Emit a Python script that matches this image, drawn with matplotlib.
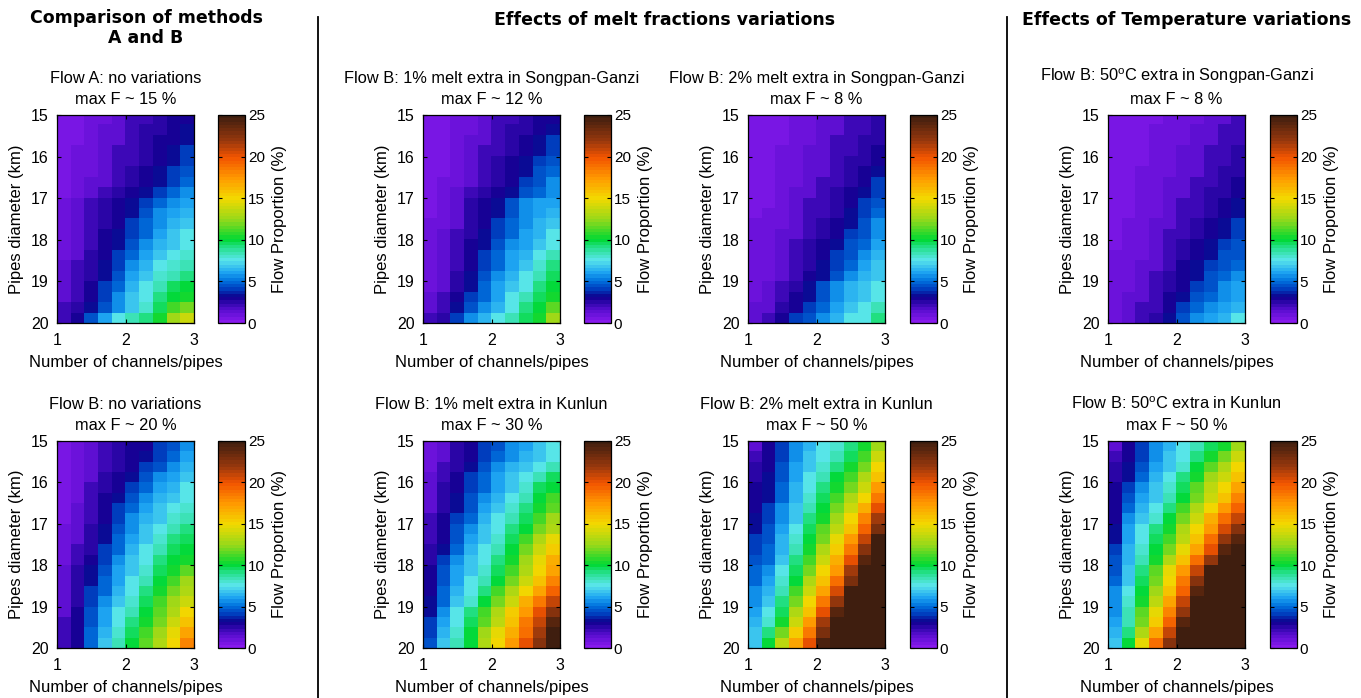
import numpy as np
import matplotlib
matplotlib.use("Agg")
import matplotlib.pyplot as plt
from matplotlib.colors import LinearSegmentedColormap
from matplotlib.lines import Line2D

plt.rcParams['font.family'] = ['Liberation Sans', 'DejaVu Sans']
plt.rcParams['mathtext.fontset'] = 'custom'
plt.rcParams['mathtext.rm'] = 'Liberation Sans'
plt.rcParams['mathtext.it'] = 'Liberation Sans:italic'

# ---------------------------------------------------------------- data
channel_range = (1, 3)          # number of channels/pipes
diameter_range = (15, 20)       # pipes diameter (km)
channel_ticks = [1, 2, 3]
diameter_ticks = [15, 16, 17, 18, 19, 20]
cbar_ticks = [0, 5, 10, 15, 20, 25]
cbar_limits = (0, 25)

# rows: diameter 15 -> 20 km, columns: 1 -> 3 channels ; flow proportion in %
flow_a_none = np.array([
    [0.5, 0.5, 1, 1, 1.5, 2, 2, 2.5, 3, 3],
    [0.5, 0.5, 1, 1.5, 1.5, 2, 2.5, 2.5, 3, 3.5],
    [0.5, 0.5, 1, 1.5, 1.5, 2, 2.5, 3, 3, 3.5],
    [0.5, 1, 1, 1.5, 2, 2, 2.5, 3, 3.5, 4],
    [0.5, 1, 1, 1.5, 2, 2, 2.5, 3, 3.5, 4],
    [0.5, 1, 1, 1.5, 2, 2.5, 3, 3.5, 4, 4.5],
    [0.5, 1, 1.5, 1.5, 2, 2.5, 3, 3.5, 4, 5],
    [0.5, 1, 1.5, 2, 2.5, 3, 3.5, 4, 5, 5.5],
    [1, 1.5, 2, 2.5, 3, 3.5, 4, 5, 5.5, 6],
    [1, 1.5, 2, 2.5, 3, 3.5, 4.5, 5.5, 6, 6.5],
    [1, 1.5, 2, 2.5, 3, 4, 5, 5.5, 6.5, 7],
    [1, 1.5, 2, 3, 3.5, 4, 5, 6, 7, 7.5],
    [1, 1.5, 2, 3, 3.5, 4.5, 5.5, 6.5, 7, 7.5],
    [1, 1.5, 2.5, 3, 4, 5, 6, 7, 7.5, 8],
    [1.5, 2, 2.5, 3.5, 4, 5.5, 6.5, 7.5, 8, 8.5],
    [1.5, 2, 2.5, 3.5, 4.5, 6, 7, 8, 8.5, 9],
    [1.5, 2, 3, 4, 5, 6.5, 7.5, 8.5, 9.5, 10],
    [1.5, 2, 3, 4, 5.5, 7, 7.5, 9, 10, 10.5],
    [2, 2.5, 3.5, 4.5, 5.5, 7, 8, 9.5, 11, 12],
    [2, 3, 4.5, 6, 7.5, 8.5, 9, 10.5, 12.5, 14],
])

flow_b_none = np.array([
    [0.5, 1, 1.5, 2, 2.5, 3, 3, 4, 4.5, 5.5],
    [0.5, 1, 1.5, 2, 2.5, 3, 3.5, 4, 5, 6],
    [0.5, 1, 1.5, 2, 2.5, 3, 4, 4.5, 5.5, 6.5],
    [0.5, 1, 1.5, 2.5, 3, 3.5, 4.5, 5.5, 6, 7],
    [0.5, 1, 2, 2.5, 3, 4, 5, 6, 6.5, 7.5],
    [0.5, 1, 2, 3, 3.5, 4.5, 5.5, 6.5, 7, 7.5],
    [0.5, 1.5, 2, 3, 4, 5, 6, 7, 7.5, 8],
    [0.5, 1.5, 2, 3, 4, 5.5, 6.5, 7, 8, 8.5],
    [1, 1.5, 2.5, 3.5, 4.5, 5.5, 7, 7.5, 8.5, 9],
    [1, 1.5, 2.5, 3.5, 5, 6, 7, 8, 9, 9.5],
    [1, 2, 2.5, 4, 5, 6.5, 7.5, 8.5, 9.5, 10],
    [1, 2, 3, 4, 5.5, 7, 7.5, 9, 10, 10.5],
    [1.5, 2.5, 3.5, 4.5, 6, 7, 8, 9.5, 10.5, 11.5],
    [1.5, 2.5, 3.5, 5, 6, 7.5, 8.5, 10, 11, 12.5],
    [1.5, 2.5, 4, 5, 6.5, 7.5, 9, 10.5, 12, 13],
    [1.5, 2.5, 4, 5.5, 7, 8, 9.5, 11, 12.5, 14],
    [1.5, 3, 4.5, 6, 7.5, 8.5, 10, 11.5, 13, 15],
    [2, 3, 4.5, 6, 7.5, 9, 10.5, 12, 14, 16],
    [2, 3, 5, 6.5, 8, 9.5, 11, 12.5, 14.5, 17],
    [2, 3, 5, 7, 8.5, 10, 11.5, 13, 15, 18],
])

flow_b_melt1_sg = np.array([
    [0.5, 0.5, 1, 1, 1.5, 2, 2, 2.5, 3, 3],
    [0.5, 0.5, 1, 1, 1.5, 2, 2.5, 2.5, 3, 3.5],
    [0.5, 0.5, 1, 1.5, 1.5, 2, 2.5, 3, 3.5, 4],
    [0.5, 0.5, 1, 1.5, 2, 2, 2.5, 3, 3.5, 4],
    [0.5, 0.5, 1, 1.5, 2, 2.5, 3, 3.5, 4, 4.5],
    [0.5, 0.5, 1, 1.5, 2, 2.5, 3, 3.5, 4.5, 5],
    [0.5, 1, 1, 1.5, 2, 2.5, 3, 4, 4.5, 5.5],
    [0.5, 1, 1.5, 2, 2.5, 3, 3.5, 4.5, 5, 5.5],
    [0.5, 1, 1.5, 2.5, 3, 3.5, 4.5, 5.5, 6, 6],
    [0.5, 1, 1.5, 2.5, 3, 3.5, 4.5, 5.5, 6, 6.5],
    [1, 1, 1.5, 2.5, 3, 4, 5, 5.5, 6.5, 7],
    [1, 1.5, 2, 2.5, 3.5, 4, 5, 6, 6.5, 7.5],
    [1, 1.5, 2, 3, 3.5, 4.5, 5.5, 6, 7, 7.5],
    [1, 1.5, 2, 3, 4, 5, 6, 6.5, 7.5, 8.5],
    [1, 1.5, 2, 3, 4, 5, 6, 7, 8, 9],
    [1, 1.5, 2.5, 3.5, 4.5, 5.5, 6.5, 7.5, 8.5, 9.5],
    [1, 1.5, 2.5, 3.5, 5, 6, 7, 7.5, 9, 10],
    [1.5, 2, 3, 4, 5, 6, 7.5, 8.5, 9.5, 10.5],
    [1.5, 2, 3.5, 4.5, 5.5, 6.5, 7.5, 9, 10, 11.5],
    [2, 2.5, 4, 5.5, 6.5, 7.5, 8.5, 9.5, 10.5, 12.5],
])

flow_b_melt2_sg = np.array([
    [0.5, 0.5, 0.5, 1, 1, 1.5, 1.5, 2, 2, 2.5],
    [0.5, 0.5, 0.5, 1, 1, 1.5, 1.5, 2, 2, 2.5],
    [0.5, 0.5, 0.5, 1, 1, 1.5, 2, 2, 2.5, 2.5],
    [0.5, 0.5, 1, 1, 1.5, 1.5, 2, 2, 2.5, 3],
    [0.5, 0.5, 1, 1, 1.5, 1.5, 2, 2.5, 2.5, 3],
    [0.5, 0.5, 1, 1, 1.5, 1.5, 2, 2.5, 3, 3.5],
    [0.5, 0.5, 1, 1, 1.5, 2, 2, 2.5, 3, 4],
    [0.5, 0.5, 1, 1.5, 1.5, 2, 2.5, 3, 3.5, 4],
    [0.5, 0.5, 1, 1.5, 2, 2, 2.5, 3, 4, 4.5],
    [0.5, 1, 1, 1.5, 2, 2, 2.5, 3.5, 4, 5],
    [1, 1, 1, 1.5, 2, 2.5, 3, 3.5, 4.5, 5.5],
    [1, 1, 1.5, 1.5, 2, 2.5, 3, 4, 4.5, 5.5],
    [1, 1, 1.5, 2, 2.5, 3, 3.5, 4.5, 5, 6],
    [1, 1, 1.5, 2, 2.5, 3, 4, 4.5, 5.5, 6.5],
    [1, 1, 1.5, 2, 2.5, 3.5, 4, 5, 6, 7],
    [1, 1, 1.5, 2, 3, 3.5, 4.5, 5.5, 6.5, 7],
    [1, 1.5, 2, 2.5, 3.5, 4.5, 5.5, 6.5, 7, 7.5],
    [1, 1.5, 2, 3, 3.5, 4.5, 5.5, 6.5, 7, 7.5],
    [1.5, 1.5, 2.5, 3, 4, 5, 6, 7, 7.5, 8.5],
    [1.5, 2, 3, 4, 4.5, 5.5, 6.5, 7.5, 7.5, 9],
])

flow_b_temp_sg = np.array([
    [0.5, 0.5, 0.5, 0.5, 1, 1, 1, 1.5, 1.5, 2],
    [0.5, 0.5, 0.5, 1, 1, 1, 1.5, 1.5, 2, 2],
    [0.5, 0.5, 0.5, 1, 1, 1, 1.5, 1.5, 2, 2],
    [0.5, 0.5, 0.5, 1, 1, 1.5, 1.5, 2, 2, 2.5],
    [0.5, 0.5, 0.5, 1, 1, 1.5, 1.5, 2, 2, 2.5],
    [0.5, 0.5, 1, 1, 1, 1.5, 1.5, 2, 2.5, 2.5],
    [0.5, 0.5, 1, 1, 1.5, 1.5, 2, 2, 2.5, 3],
    [0.5, 0.5, 1, 1, 1.5, 1.5, 2, 2.5, 2.5, 3],
    [0.5, 0.5, 1, 1, 1.5, 2, 2, 2.5, 3, 3.5],
    [0.5, 0.5, 1, 1, 1.5, 2, 2, 2.5, 3, 3.5],
    [0.5, 1, 1, 1.5, 1.5, 2, 2.5, 3, 3.5, 4],
    [0.5, 1, 1, 1.5, 2, 2, 2.5, 3, 3.5, 4],
    [0.5, 1, 1, 1.5, 2, 2.5, 3, 3.5, 4, 4.5],
    [1, 1, 1, 1.5, 2, 2.5, 3, 3.5, 4.5, 4.5],
    [1, 1, 1.5, 1.5, 2, 3, 3.5, 4, 4.5, 5],
    [1, 1, 1.5, 2, 2.5, 3, 3.5, 4.5, 5, 5.5],
    [1, 1, 1.5, 2, 2.5, 3, 4, 4.5, 5.5, 6],
    [1, 1.5, 1.5, 2, 3, 3.5, 4.5, 5, 5.5, 6],
    [1, 1.5, 2, 2, 3, 4, 5, 5.5, 6, 6.5],
    [1, 1.5, 2, 2.5, 3.5, 4.5, 5.5, 6, 6.5, 7.5],
])

flow_b_melt1_kl = np.array([
    [1, 1.5, 2.5, 3, 4, 4.5, 5.5, 6, 7, 7.5],
    [1, 1.5, 2.5, 3, 4, 5, 5.5, 6.5, 7, 7.5],
    [1, 2, 2.5, 3.5, 4.5, 5.5, 6.5, 7, 7.5, 8.5],
    [1.5, 2, 3, 4, 5, 6, 7, 7.5, 8.5, 9.5],
    [1.5, 2.5, 3, 4, 5, 6, 7, 8, 9.5, 10],
    [1.5, 2.5, 3.5, 4.5, 5.5, 6.5, 7.5, 8.5, 10, 11],
    [1.5, 2.5, 3.5, 4.5, 6, 7, 8, 9, 10.5, 11.5],
    [2, 3, 4, 5, 6.5, 7.5, 8.5, 9.5, 11, 12.5],
    [2, 3, 4.5, 5.5, 7, 7.5, 9, 10, 12, 13],
    [2, 3, 4.5, 6, 7, 8, 9.5, 11, 13, 14.5],
    [2.5, 3.5, 5, 6.5, 7.5, 8.5, 10, 12, 14, 15.5],
    [2.5, 4, 5.5, 7, 7.5, 9, 10.5, 12.5, 14.5, 16.5],
    [3, 4.5, 6, 7, 8, 9.5, 11, 13, 15, 17],
    [3, 4.5, 6, 7.5, 8.5, 10, 12, 14, 16, 18],
    [3, 5, 6.5, 7.5, 9, 11, 13, 15, 17, 19.5],
    [3.5, 5, 7, 8, 10, 12, 14, 16.5, 18.5, 21],
    [3.5, 5.5, 7.5, 9, 11, 13, 15.5, 17.5, 20, 22.5],
    [4, 6, 7.5, 9.5, 11.5, 13.5, 16, 18.5, 21, 24],
    [4, 6.5, 8, 10, 12.5, 14.5, 16.5, 19, 21.5, 25],
    [4.5, 7, 8.5, 10, 13, 15, 17.5, 20, 22.5, 26],
])

flow_b_melt2_kl = np.array([
    [1.5, 3, 4, 5.5, 6.5, 7.5, 8, 9, 10.5, 12.5],
    [2, 3, 4, 5.5, 7, 7.5, 8.5, 9.5, 11, 14],
    [2.5, 3, 4.5, 6, 7, 8, 9, 10.5, 12, 15],
    [2.5, 3.5, 4.5, 6, 7.5, 8.5, 10, 11, 13, 16],
    [3, 3.5, 5, 6.5, 7.5, 9, 10.5, 12, 14, 17.5],
    [3, 3.5, 5, 6.5, 8, 9.5, 11, 13, 15, 18.5],
    [3, 4, 5.5, 7, 8.5, 10, 12, 14, 16.5, 20],
    [3.5, 4, 5.5, 7, 9, 10.5, 12.5, 15, 18, 21.5],
    [3.5, 4.5, 6, 7.5, 9.5, 11.5, 13.5, 16, 19.5, 23],
    [4, 4.5, 6.5, 8, 10, 12, 14.5, 17.5, 21, 25],
    [4, 5, 6.5, 8.5, 10.5, 13, 15.5, 18.5, 22.5, 27],
    [4.5, 5, 7, 9, 11, 14, 16.5, 20, 24, 29],
    [5, 5.5, 7.5, 9.5, 12, 15, 17.5, 21.5, 26, 31],
    [5, 6, 8, 10, 13, 16, 19, 23, 28, 33],
    [5.5, 6.5, 8.5, 11, 14, 17, 20.5, 25, 30, 35],
    [5.5, 7, 9, 12, 15, 18.5, 22, 27, 32, 38],
    [6, 7.5, 9.5, 13, 16, 20, 24, 29, 34, 40],
    [6.5, 8, 10.5, 14, 17.5, 21.5, 26, 31, 37, 43],
    [7, 9, 12, 15.5, 18.5, 23, 28, 33, 40, 46],
    [7, 10, 13.5, 17, 20, 24.5, 30, 35, 42, 50],
])

flow_b_temp_kl = np.array([
    [1.5, 3, 4, 5.5, 6.5, 7.5, 8.5, 9.5, 10.5, 12.5],
    [2, 3, 4, 5.5, 7, 7.5, 9, 10.5, 12, 14],
    [2.5, 3.5, 4.5, 6, 7, 8, 10, 11.5, 13, 15],
    [2.5, 3.5, 5, 6.5, 7.5, 9, 10.5, 12.5, 14, 16],
    [3, 4, 5.5, 7, 8, 9.5, 11.5, 13.5, 15, 17],
    [3, 4.5, 6, 7, 8.5, 10, 12, 14, 16, 18],
    [3, 5, 6.5, 7.5, 9, 11, 13, 15, 17.5, 19.5],
    [3, 5.5, 7, 8, 10, 12, 14, 16.5, 19, 21],
    [3.5, 6, 7.5, 9, 10.5, 13, 15, 17.5, 20.5, 22.5],
    [3.5, 6, 7.5, 9.5, 11, 13.5, 16, 19, 22, 24],
    [4, 6.5, 8, 10, 12, 14.5, 17, 20, 24, 26],
    [4.5, 6.5, 8.5, 10.5, 13, 16, 19, 22, 26, 28],
    [4.5, 7, 9, 11.5, 14.5, 17.5, 21, 25, 28, 30],
    [5, 7, 9.5, 12, 15, 18.5, 22.5, 27, 30, 33],
    [5.5, 7.5, 10, 12.5, 16, 19.5, 24, 29, 32, 35],
    [5.5, 8, 10.5, 13.5, 17, 21, 26, 31, 35, 38],
    [5.5, 8.5, 11.5, 14.5, 18, 22, 27, 33, 37, 41],
    [6, 8.5, 12, 15.5, 19.5, 24, 29, 35, 40, 44],
    [6.5, 9, 13, 17, 21, 26, 31, 37, 42, 47],
    [7, 10, 14.5, 19, 22.5, 28, 33, 39, 45, 50],
])

panel_titles = [
    "Flow A: no variations",
    "Flow B: no variations",
    "Flow B: 1% melt extra in Songpan-Ganzi",
    "Flow B: 1% melt extra in Kunlun",
    "Flow B: 2% melt extra in Songpan-Ganzi",
    "Flow B: 2% melt extra in Kunlun",
    r"Flow B: 50$^{\mathrm{o}}$C extra in Songpan-Ganzi",
    r"Flow B: 50$^{\mathrm{o}}$C extra in Kunlun",
]
panel_maxf = [15, 20, 12, 30, 8, 50, 8, 50]
panel_data = [flow_a_none, flow_b_none, flow_b_melt1_sg, flow_b_melt1_kl,
              flow_b_melt2_sg, flow_b_melt2_kl, flow_b_temp_sg, flow_b_temp_kl]

section_titles = ["Comparison of methods\nA and B",
                  "Effects of melt fractions variations",
                  "Effects of Temperature variations"]

# colour scale (flow proportion -> colour)
cmap_levels = [0, 1.5, 3, 4, 5, 6, 7.5, 9, 10, 12.5, 15, 17.5, 20, 22, 25]
cmap_colors = [
    (0.53, 0.10, 0.93), (0.33, 0.05, 0.80), (0.05, 0.00, 0.55),
    (0.00, 0.25, 0.75), (0.00, 0.45, 0.87), (0.12, 0.65, 0.95),
    (0.35, 0.90, 0.92), (0.15, 0.88, 0.55), (0.00, 0.85, 0.20),
    (0.60, 0.85, 0.10), (0.95, 0.85, 0.00), (1.00, 0.60, 0.00),
    (0.95, 0.33, 0.00), (0.60, 0.22, 0.05), (0.25, 0.12, 0.06),
]

# ---------------------------------------------------------------- figure
W, H = 1361, 698
fig = plt.figure(figsize=(W / 100, H / 100), dpi=100)
fig.patch.set_facecolor("white")

cmap = LinearSegmentedColormap.from_list(
    "flow", list(zip(np.array(cmap_levels) / cbar_limits[1], cmap_colors)), N=64)


def fbox(x0, y0, x1, y1):
    return [x0 / W, 1 - y1 / H, (x1 - x0) / W, (y1 - y0) / H]


ax_lefts = [57, 423, 748, 1108]
cb_lefts = [218, 584, 910, 1270]
row_spans = [(115, 323), (441, 648)]
ax_w, cb_w = 137, 27

for k, (data, title, maxf) in enumerate(zip(panel_data, panel_titles, panel_maxf)):
    col, row = divmod(k, 2)
    y0, y1 = row_spans[row]
    ax = fig.add_axes(fbox(ax_lefts[col], y0, ax_lefts[col] + ax_w, y1))
    im = ax.imshow(data, cmap=cmap, vmin=cbar_limits[0], vmax=cbar_limits[1],
                   extent=(channel_range[0], channel_range[1],
                           diameter_range[1], diameter_range[0]),
                   aspect="auto", interpolation="nearest")
    ax.set_xlim(*channel_range)
    ax.set_ylim(diameter_range[1], diameter_range[0])
    ax.set_xticks(channel_ticks)
    ax.set_yticks(diameter_ticks)
    ax.tick_params(direction="in", top=True, right=True, length=3, width=0.8,
                   labelsize=11.5)
    ax.tick_params(axis="x", pad=7)
    ax.tick_params(axis="y", pad=6)
    for s in ax.spines.values():
        s.set_linewidth(0.9)
    ax.set_xlabel("Number of channels/pipes", fontsize=12, labelpad=5)
    ax.set_ylabel("Pipes diameter (km)", fontsize=12, labelpad=5)
    ax.set_title(f"{title}\nmax F ~ {maxf} %", fontsize=11.8, pad=8,
                 linespacing=1.45)

    cax = fig.add_axes(fbox(cb_lefts[col], y0, cb_lefts[col] + cb_w, y1))
    cb = fig.colorbar(im, cax=cax, ticks=cbar_ticks)
    cb.outline.set_linewidth(0.9)
    cax.tick_params(direction="in", left=True, right=True, length=3, width=0.8,
                    labelsize=11, pad=2)
    cb.set_label("Flow Proportion (%)", fontsize=12, labelpad=5)

# section headings
fig.text(146 / W, 1 - 28 / H, section_titles[0], ha="center", va="center",
         fontsize=12.5, fontweight="bold", family="DejaVu Sans", linespacing=1.2)
fig.text(665 / W, 1 - 20 / H, section_titles[1], ha="center", va="center",
         fontsize=12.5, fontweight="bold", family="DejaVu Sans")
fig.text(1022 / W, 1 - 20 / H, section_titles[2], ha="left", va="center",
         fontsize=12.5, fontweight="bold", family="DejaVu Sans")

# section separators
for xs in (318, 1007):
    fig.add_artist(Line2D([xs / W, xs / W], [0, 1 - 17 / H], color="black", lw=1.3))

fig.savefig("out.png", dpi=100)
